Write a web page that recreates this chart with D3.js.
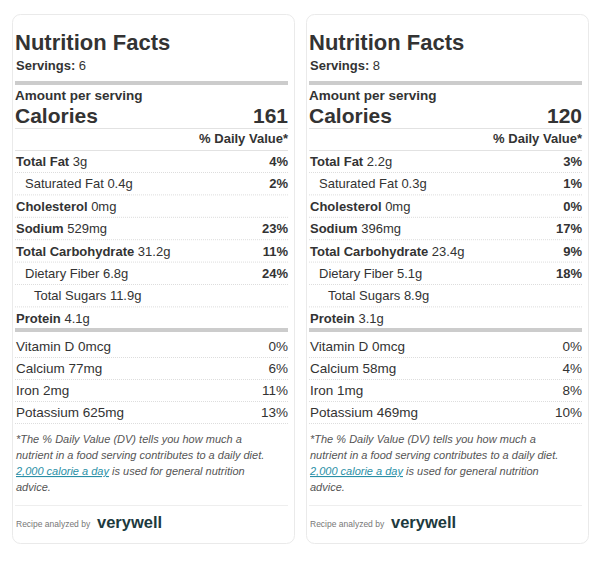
<!DOCTYPE html>
<html><head><meta charset="utf-8">
<script src="https://cdn.jsdelivr.net/npm/d3@7"></script>
<style>body{margin:0;background:#fff}svg{font-family:"Liberation Sans",Arial,sans-serif}</style>
</head><body>
<svg id="c" width="601" height="563"></svg>
<script>
var servings = [6, 8]
var calories = [161, 120]
var nutrients = ['Total Fat', 'Saturated Fat', 'Cholesterol', 'Sodium', 'Total Carbohydrate', 'Dietary Fiber', 'Total Sugars', 'Protein']
var bold = [true, false, true, true, true, false, false, true]
var indent = [0, 1, 0, 0, 0, 1, 2, 0]
var amounts = [['3g', '0.4g', '0mg', '529mg', '31.2g', '6.8g', '11.9g', '4.1g'],
               ['2.2g', '0.3g', '0mg', '396mg', '23.4g', '5.1g', '8.9g', '3.1g']]
var dv = [['4%', '2%', '', '23%', '11%', '24%', '', ''],
          ['3%', '1%', '0%', '17%', '9%', '18%', '', '']]
var minerals = ['Vitamin D', 'Calcium', 'Iron', 'Potassium']
var minAmounts = [['0mcg', '77mg', '2mg', '625mg'], ['0mcg', '58mg', '1mg', '469mg']]
var minDv = [['0%', '6%', '11%', '13%'], ['0%', '4%', '8%', '10%']]

var svg = d3.select('#c')
var cardX = d3.scaleOrdinal().domain([0, 1]).range([12, 306])
var cardW = 282
var rowY = d3.scaleLinear().domain([0, 1]).range([161, 183.4])
var minY = d3.scaleLinear().domain([0, 1]).range([346, 368])
var ink = '#333'

;[0, 1].forEach(function(k){
    var x0 = cardX(k), w = cardW
    var g = svg.append('g').attr('transform', 'translate(' + x0 + ',0)')
    var L = 3, R = w - 6
    g.append('rect').attr('x', 0.5).attr('y', 14.5).attr('width', w).attr('height', 529).attr('rx', 8)
        .attr('fill', '#fff').attr('stroke', '#eaeaea')

    function line(y, h, c){ g.append('rect').attr('x', L).attr('y', y).attr('width', R - L).attr('height', h).attr('fill', c) }
    function txt(x, y, s, size, weight, anchor){
        return g.append('text').attr('x', x).attr('y', y).attr('font-size', size).attr('font-weight', weight || 'normal')
            .attr('text-anchor', anchor || 'start').attr('fill', ink).text(s)
    }

    txt(L, 50, 'Nutrition Facts', 22, 'bold')
    var s = txt(L + 1, 70, 'Servings: ', 13, 'bold')
    s.append('tspan').attr('font-weight', 'normal').text(servings[k])
    line(81, 4, '#ccc')
    txt(L, 100, 'Amount per serving', 13.5, 'bold')
    txt(L, 123, 'Calories', 21, 'bold')
    txt(R, 123, calories[k], 21, 'bold', 'end')
    line(128, 1, '#e2e2e2')
    txt(R, 143, '% Daily Value*', 13, 'bold', 'end')
    line(150, 1, '#e2e2e2')

    nutrients.forEach(function(n, i){
        var y = rowY(i)
        var t = txt(L + 1 + indent[i] * 9, y + 5, n + ' ', 13, bold[i] ? 'bold' : 'normal')
        t.append('tspan').attr('font-weight', 'normal').text(amounts[k][i])
        if (dv[k][i]) txt(R, y + 5, dv[k][i], 13, 'bold', 'end')
        if (i < nutrients.length - 1) g.append('line').attr('x1', L).attr('x2', R).attr('y1', y + 11.5).attr('y2', y + 11.5)
            .attr('stroke', '#ddd').attr('stroke-dasharray', '1,1')
    })
    line(328, 4, '#ccc')
    minerals.forEach(function(n, i){
        var y = minY(i)
        txt(L + 1, y + 5, n + ' ' + minAmounts[k][i], 13.5)
        txt(R, y + 5, minDv[k][i], 13.5, 'normal', 'end')
        g.append('line').attr('x1', L).attr('x2', R).attr('y1', y + 11.5).attr('y2', y + 11.5)
            .attr('stroke', '#ddd').attr('stroke-dasharray', '1,1')
    })

    var foot = ['*The % Daily Value (DV) tells you how much a', 'nutrient in a food serving contributes to a daily diet.', '', 'advice.']
    foot.forEach(function(f, i){
        var t = txt(L + 1, 443 + i * 16, f, 11).attr('font-style', 'italic').attr('fill', '#555')
        if (i == 2) {
            t.append('tspan').attr('fill', '#2a8fa6').attr('text-decoration', 'underline').text('2,000 calorie a day')
            t.append('tspan').text(' is used for general nutrition')
        }
    })
    line(505, 1, '#eee')
    txt(L + 1, 527, 'Recipe analyzed by', 8.5).attr('fill', '#777')
    txt(L + 82, 528, 'verywell', 16.5, 'bold').attr('fill', '#1d3a3e')
})
</script>
</body></html>
